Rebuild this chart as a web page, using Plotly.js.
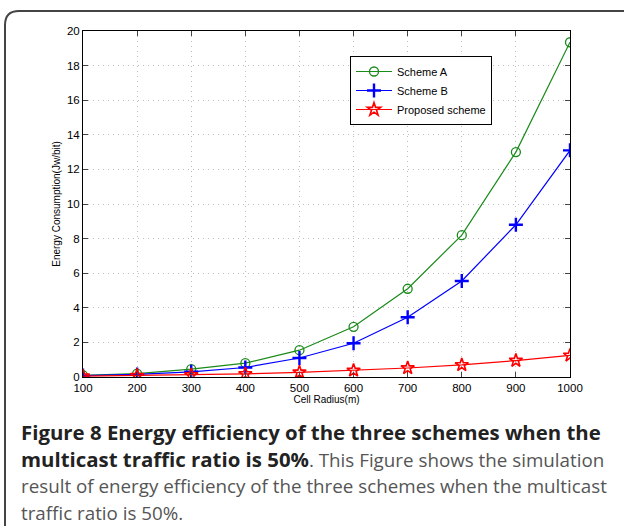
<!DOCTYPE html>
<html><head><meta charset="utf-8">
<script src="https://cdn.plot.ly/plotly-3.0.1.min.js"></script>
<style>body{margin:0;background:#fff}#c{width:624px;height:526px}</style>
</head><body><div id="c"></div>
<script>
const radius = [100,200,300,400,500,600,700,800,900,1000];
const schemeA = [0.1,0.2,0.45,0.8,1.55,2.9,5.1,8.2,13.0,19.35];
const schemeB = [0.08,0.15,0.3,0.55,1.1,1.95,3.45,5.55,8.8,13.1];
const proposed = [0.05,0.08,0.12,0.18,0.27,0.38,0.52,0.7,0.95,1.25];
const xTicks = [100,200,300,400,500,600,700,800,900,1000];
const yTicks = [0,2,4,6,8,10,12,14,16,18,20];
const names = ['Scheme A','Scheme B','Proposed scheme'];
const REG = 'color:#555;font-size:18.8px';
const captionLines = [
 '<b>Figure 8 Energy efficiency of the three schemes when the</b>',
 '<b>multicast traffic ratio is 50%</b><span style="'+REG+'">. This Figure shows the simulation</span>',
 '<span style="'+REG+'">result of energy efficiency of the three schemes when the multicast</span>',
 '<span style="'+REG+'">traffic ratio is 50%.</span>'
];

const L=83, R=570, T=31, B=377;
const W=R-L, H=B-T;
const px=(x)=>((x-L)/W), py=(y)=>((B-y)/H);

const traces = [
 {x:radius,y:schemeA,name:names[0],mode:'lines+markers',line:{color:'#1a8a1a',width:1.2},
  marker:{symbol:'circle-open',size:9,color:'#1a8a1a',line:{width:1.3}}},
 {x:radius,y:schemeB,name:names[1],mode:'lines+markers',line:{color:'#0000ff',width:1.2},
  marker:{symbol:'cross-thin-open',size:10,color:'#0000ff',line:{width:2.4,color:'#0000ff'}}},
 {x:radius,y:proposed,name:names[2],mode:'lines+markers',line:{color:'#ff0000',width:1.2},
  marker:{symbol:'star-open',size:10,color:'#ff0000',line:{width:1.6}}}
];
const annotations = captionLines.map((t,i)=>({
 xref:'paper',yref:'paper',x:px(19),y:py(432+27*i),xanchor:'left',yanchor:'middle',
 text:t,showarrow:false,align:'left',font:{family:'Open Sans',size:20.4,color:'#222'}
}));
const layout = {
 width:624,height:526,margin:{l:L,r:624-R,t:T,b:526-B},
 paper_bgcolor:'#fff',plot_bgcolor:'#fff',
 font:{family:'Liberation Sans, Arial',size:11,color:'#000'},
 showlegend:true,
 legend:{x:px(350),y:py(56),xanchor:'left',yanchor:'top',bgcolor:'#fff',bordercolor:'#000',borderwidth:1,
  font:{size:11},tracegroupgap:0,itemwidth:36},
 xaxis:{range:[100,1000],tickvals:xTicks,ticktext:xTicks.map(String),ticks:'inside',ticklen:5,
  showline:true,linecolor:'#000',linewidth:1,mirror:'ticks',showgrid:true,gridcolor:'#bdbdbd',griddash:'1px,4px',
  zeroline:false,tickfont:{size:11.5},title:{text:'Cell Radius(m)',font:{size:10},standoff:1}},
 yaxis:{range:[0,20],tickvals:yTicks,ticks:'inside',ticklen:5,
  showline:true,linecolor:'#000',linewidth:1,mirror:'ticks',showgrid:true,gridcolor:'#bdbdbd',griddash:'1px,4px',
  zeroline:false,tickfont:{size:11.5},title:{text:'Energy Consumption(Jw/bit)',font:{size:10},standoff:4}},
 annotations:annotations,
 shapes:[{type:'path',xref:'paper',yref:'paper',
  path:`M ${px(5)} ${py(560)} L ${px(5)} ${py(25)} Q ${px(5)} ${py(11)} ${px(19)} ${py(11)} L ${px(640)} ${py(11)}`,
  line:{color:'#444',width:2}}]
};
Plotly.newPlot('c',traces,layout,{displayModeBar:false});
</script></body></html>
